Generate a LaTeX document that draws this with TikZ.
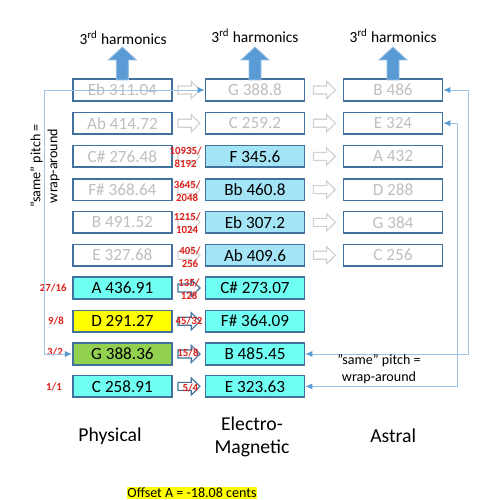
\documentclass[tikz,border=0pt]{standalone}
\usepackage{fontspec}
\setmainfont{Carlito}
\usetikzlibrary{arrows.meta,calc}
\definecolor{colBorder}{HTML}{41719C}
\definecolor{colGhost}{HTML}{BFBFBF}
\definecolor{colSky}{HTML}{A3E4F7}
\definecolor{colAqua}{HTML}{6FFFF3}
\definecolor{colLime}{HTML}{92D050}
\definecolor{colYellow}{HTML}{FFFF00}
\definecolor{colRatio}{HTML}{E0201B}
\definecolor{colArrow}{HTML}{5B9BD5}
\definecolor{colWrap}{HTML}{9DC3E6}
\definecolor{colHollow}{HTML}{D0D0D0}
\def\boxfont{\fontsize{12.2pt}{14pt}\selectfont}
\def\harmfont{\fontsize{11pt}{13pt}\selectfont}
\def\ratfont{\fontsize{7.7pt}{9.4pt}\selectfont\bfseries}
\def\notefont{\fontsize{10pt}{12pt}\selectfont}
\def\planefont{\fontsize{14pt}{16.4pt}\selectfont}
\newcommand{\uparr}[1]{%
  \fill[colArrow, draw=colArrow!65!white, line width=0.6pt]
    (#1,-1.175) -- ++(0.35,-0.325) -- ++(-0.2,0) -- ++(0,-0.5) -- ++(-0.3,0)
    -- ++(0,0.5) -- ++(-0.2,0) -- cycle;}
\newcommand{\harr}[3]{%
  \draw[#3, fill=white, line width=0.8pt, line join=miter] (#1,#2) ++(-0.275,0.1)
    -- ++(0.33,0) -- ++(0,0.115) -- ++(0.22,-0.215) -- ++(-0.22,-0.215)
    -- ++(0,0.115) -- ++(-0.33,0) -- cycle;}
\tikzset{
  box/.style={draw=colBorder, line width=1.1pt, minimum width=2.48cm,
    minimum height=0.54cm, inner sep=0pt, font=\boxfont},
  dim/.style={box, fill=white, text=colGhost},
  sky/.style={box, fill=colSky},
  aqua/.style={box, fill=colAqua},
  ratio/.style={font=\ratfont, text=colRatio, align=center, inner sep=0pt},
  wrap/.style={draw=colWrap, line width=0.7pt,
    >={Latex[length=5pt,width=4.5pt,color=colArrow]}, <->},
  note/.style={font=\notefont, align=center, inner sep=0pt}
}

\begin{document}
\begin{tikzpicture}
\useasboundingbox (0,0) rectangle (12.5,-12.5);

% ===================== PHYSICAL =====================
\node[dim] (p1) at (3.06,-2.25) {Eb 311.04};
\node[dim] (p2) at (3.06,-3.08) {Ab 414.72};
\node[dim] (p3) at (3.06,-3.91) {C\# 276.48};
\node[dim] (p4) at (3.06,-4.74) {F\# 368.64};
\node[dim] (p5) at (3.06,-5.56) {B 491.52};
\node[dim] (p6) at (3.06,-6.38) {E 327.68};
\node[aqua] (p7) at (3.06,-7.20) {A 436.91};
\node[box, fill=colYellow] (p8) at (3.06,-8.03) {D 291.27};
\node[box, fill=colLime] (p9) at (3.06,-8.85) {G 388.36};
\node[aqua] (p10) at (3.06,-9.66) {C 258.91};

% ===================== ELECTRO-MAGNETIC =====================
\node[dim] (e1) at (6.375,-2.25) {G 388.8};
\node[dim] (e2) at (6.375,-3.08) {C 259.2};
\node[sky] (e3) at (6.375,-3.91) {F 345.6};
\node[sky] (e4) at (6.375,-4.74) {Bb 460.8};
\node[sky] (e5) at (6.375,-5.56) {Eb 307.2};
\node[sky] (e6) at (6.375,-6.38) {Ab 409.6};
\node[aqua] (e7) at (6.375,-7.20) {C\# 273.07};
\node[aqua] (e8) at (6.375,-8.03) {F\# 364.09};
\node[aqua] (e9) at (6.375,-8.85) {B 485.45};
\node[aqua] (e10) at (6.375,-9.66) {E 323.63};

% ===================== ASTRAL =====================
\node[dim] (a1) at (9.825,-2.25) {B 486};
\node[dim] (a2) at (9.825,-3.08) {E 324};
\node[dim] (a3) at (9.825,-3.91) {A 432};
\node[dim] (a4) at (9.825,-4.74) {D 288};
\node[dim] (a5) at (9.825,-5.56) {G 384};
\node[dim] (a6) at (9.825,-6.38) {C 256};

% harmonics
\uparr{3.06}
\uparr{6.375}
\uparr{9.825}
\node[font=\harmfont, inner sep=0pt] (h1) at (3.08,-0.95) {3\textsuperscript{rd} harmonics};
\node[font=\harmfont, inner sep=0pt] (h2) at (6.375,-0.9) {3\textsuperscript{rd} harmonics};
\node[font=\harmfont, inner sep=0pt] (h3) at (9.83,-0.9) {3\textsuperscript{rd} harmonics};

% hollow arrows
\harr{4.725}{-2.25}{colHollow}
\harr{4.725}{-3.08}{colHollow}
\harr{4.725}{-3.91}{colHollow}
\harr{4.725}{-4.74}{colHollow}
\harr{4.725}{-5.56}{colHollow}
\harr{4.725}{-6.38}{colHollow}
\harr{4.725}{-7.20}{colBorder}
\harr{4.725}{-8.03}{colBorder}
\harr{4.725}{-8.85}{colBorder}
\harr{4.725}{-9.66}{colBorder}
\harr{8.11}{-2.25}{colHollow}
\harr{8.11}{-3.08}{colHollow}
\harr{8.11}{-3.91}{colHollow}
\harr{8.11}{-4.74}{colHollow}
\harr{8.11}{-5.56}{colHollow}
\harr{8.11}{-6.38}{colHollow}

% ratios
\node[ratio] (r7) at (1.33,-7.20) {27/16};
\node[ratio] (r8) at (1.40,-8.03) {9/8};
\node[ratio] (r9) at (1.375,-8.80) {3/2};
\node[ratio] (r10) at (1.35,-9.68) {1/1};
\node[ratio] (m3) at (4.64,-3.94) {10935/\\8192};
\node[ratio] (m4) at (4.68,-4.79) {3645/\\2048};
\node[ratio] (m5) at (4.68,-5.575) {1215/\\1024};
\node[ratio] (m6) at (4.75,-6.44) {405/\\256};
\node[ratio] (m7) at (4.725,-7.24) {135/\\128};
\node[ratio] (m8) at (4.725,-8.03) {45/32};
\node[ratio] (m9) at (4.70,-8.83) {15/8};
\node[ratio] (m10) at (4.76,-9.70) {5/4};

% wrap-around
\draw[wrap] (p9.west) -- ++(-0.69,0) |- (e1.west);
\draw[wrap] (e9.east) -- ++(4.075,0) |- (a1.east);
\draw[wrap] (e10.east) -- ++(3.8,0) |- (a2.east);
\node[note, rotate=90] (wl) at (1.125,-4.15) {”same” pitch =\\wrap-around};
\node[note] (wr) at (9.475,-9.225) {”same” pitch =\\wrap-around};

% planes
\node[font=\planefont, inner sep=0pt] (phys) at (2.75,-10.9) {Physical};
\node[font=\planefont, inner sep=0pt, align=center] (em) at (6.3,-10.91) {Electro-\\Magnetic};
\node[font=\planefont, inner sep=0pt] (astral) at (9.83,-10.9) {Astral};

\node[font=\notefont, fill=colYellow, inner sep=0.5pt, anchor=north] (offs) at (4.8,-12.175)
  {Offset A = -18.08 cents};
\end{tikzpicture}
\end{document}
